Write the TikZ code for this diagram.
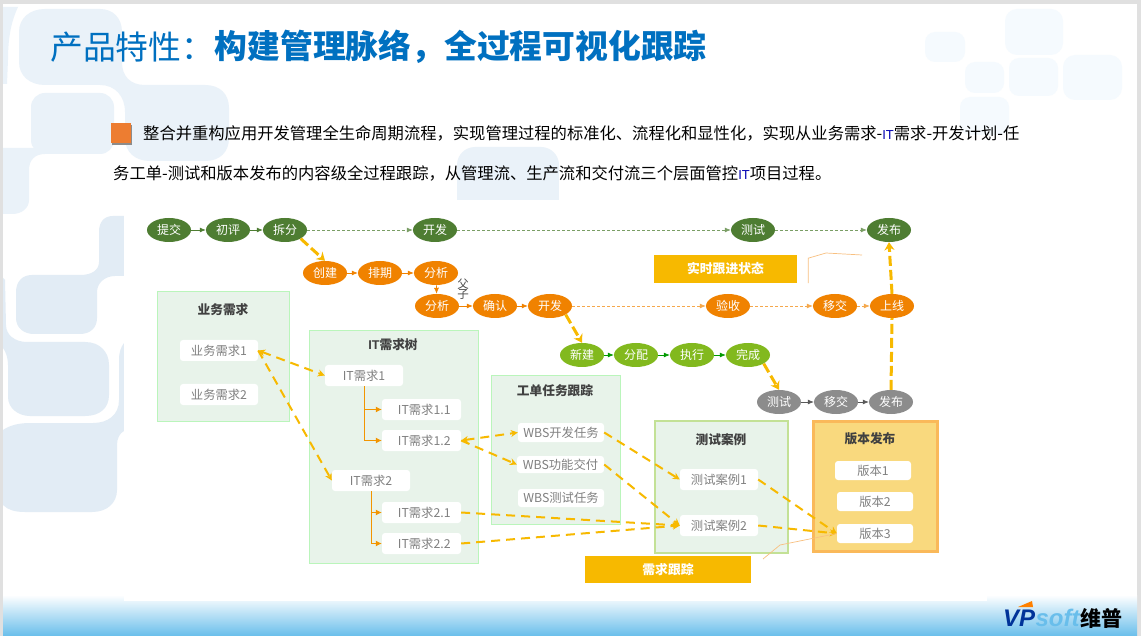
\documentclass[tikz,border=0pt]{standalone}
\usepackage{fontspec}
\usepackage{xcolor}
\usetikzlibrary{arrows.meta,shapes.geometric}
\setmainfont{Liberation Sans}
\newfontfamily\cjk{Noto Sans CJK SC}
\definecolor{vpblue}{RGB}{0,112,192}
\definecolor{vpdeco}{RGB}{234,242,249}
\definecolor{vpdecob}{RGB}{226,236,245}
\definecolor{vpfaint}{RGB}{245,250,254}
\definecolor{vpdark}{RGB}{78,125,50}
\definecolor{vporange}{RGB}{240,130,0}
\definecolor{vplime}{RGB}{130,185,30}
\definecolor{vpgray}{RGB}{140,140,140}
\definecolor{vpyellow}{RGB}{247,185,0}
\definecolor{vppanel}{RGB}{232,243,234}
\definecolor{vpsky}{RGB}{105,190,235}
\definecolor{vpbullet}{RGB}{237,125,49}
\definecolor{vpver}{RGB}{249,217,126}
\definecolor{vpverline}{RGB}{250,185,90}
\definecolor{vptestline}{RGB}{195,225,150}
\tikzset{
  flowstep/.style={ellipse, minimum width=44pt, minimum height=24pt, inner sep=0pt, text=white, font=\cjk\fontsize{12}{14}\selectfont},
  darkstep/.style={flowstep, fill=vpdark},
  orangestep/.style={flowstep, fill=vporange},
  limestep/.style={flowstep, fill=vplime},
  graystep/.style={flowstep, fill=vpgray},
  panelbox/.style={fill=vppanel, draw=vppanel!80!green, line width=1pt},
  paneltitle/.style={font=\cjk\bfseries\fontsize{12.7}{14}\selectfont, text=black!75},
  itembox/.style={fill=white, rounded corners=3pt, inner sep=0pt, minimum height=21pt, minimum width=78pt, text=black!50, font=\cjk\fontsize{12.3}{14}\selectfont},
  tagbox/.style={fill=vpyellow, inner sep=0pt, text=white, font=\cjk\bfseries\fontsize{12.8}{14}\selectfont},
  trace/.style={-{Stealth[length=7pt,width=7pt]}, vpyellow, line width=2pt, dash pattern=on 9pt off 6pt},
  tracetwo/.style={trace, {Stealth[length=7pt,width=7pt]}-{Stealth[length=7pt,width=7pt]}},
  jump/.style={-{Stealth[length=8pt,width=10pt]}, vpyellow, line width=3pt, dash pattern=on 10pt off 4pt},
  thinlink/.style={-{Latex[length=6pt,width=5pt]}, line width=0.7pt},
  dotlink/.style={thinlink, dash pattern=on 2.5pt off 2.5pt},
  treelink/.style={-{Latex[length=6pt,width=6pt]}, vporange!85!yellow, line width=1pt},
  callout/.style={draw=vporange!50, line width=0.7pt}
}
\begin{document}
\begin{tikzpicture}[x=1pt, y=-1pt]
\useasboundingbox (0,0) rectangle (1141,636);
\fill[black!12] (0,0) rectangle (1141,636);
\fill[white] (3,4) rectangle (1137,636);
\fill[vpdeco] (45,9) -- (100,9) .. controls (113,9) and (122,18) .. (122,32) -- (122,62) .. controls (122,76) and (130,85) .. (145,85) -- (205,85) .. controls (220,85) and (229,94) .. (229,108) -- (229,138) .. controls (229,152) and (220,161) .. (205,161) -- (150,161) .. controls (135,161) and (125,152) .. (125,138) -- (125,112) .. controls (125,96) and (115,85) .. (100,85) -- (45,85) .. controls (30,85) and (19,76) .. (19,62) -- (19,32) .. controls (19,18) and (30,9) .. (45,9) -- cycle;
\fill[vpdeco, rounded corners=14pt] (31,93) rectangle (114,154);
\fill[vpdeco] (3,7) -- (18,7) .. controls (12,20) and (8,35) .. (8,60) -- (7,84) -- (3,84) -- cycle;
\fill[vpdeco] (3,148) -- (50,148) -- (50,154) -- (45,154) .. controls (35,154) and (29,160) .. (29,170) -- (29,200) .. controls (29,208) and (22,214) .. (12,214) -- (3,214) -- cycle;
\fill[vpdecob] (124,216) -- (113,216) .. controls (104,216) and (99,222) .. (99,232) -- (99,262) .. controls (99,270) and (92,275) .. (80,275) -- (32,275) .. controls (22,275) and (16,282) .. (16,292) -- (16,318) .. controls (16,328) and (24,334) .. (34,334) -- (80,334) .. controls (90,334) and (97,328) .. (97,318) -- (97,292) .. controls (97,283) and (105,276) .. (115,276) -- (124,276) -- cycle;
\fill[vpdecob] (3,278) -- (5,280) -- (6,325) .. controls (6,335) and (15,342) .. (27,342) -- (85,342) .. controls (100,342) and (109,352) .. (109,365) -- (109,395) .. controls (109,408) and (100,416) .. (85,416) -- (30,416) .. controls (18,416) and (8,408) .. (8,397) -- (8,365) .. controls (8,358) and (6,352) .. (3,348) -- cycle;
\fill[vpdecob] (3,430) .. controls (10,425) and (20,423) .. (30,423) -- (93,423) .. controls (108,423) and (119,415) .. (119,400) -- (119,360) .. controls (119,352) and (121,347) .. (124,343) -- (124,431) .. controls (120,433) and (117,438) .. (117,445) -- (117,490) .. controls (117,503) and (107,512) .. (92,512) -- (25,512) .. controls (15,512) and (8,510) .. (3,505) -- cycle;
\fill[vpdeco, rounded corners=18pt] (457,147) rectangle (559,190);
\fill[vpdeco] (457,175) rectangle (559,200);
\fill[vpfaint, rounded corners=12pt] (1005,9) rectangle (1063,55);
\fill[vpfaint, rounded corners=12pt] (1063,55) rectangle (1122,100);
\fill[vpfaint, rounded corners=10pt] (1009,58) rectangle (1058,96);
\fill[vpfaint, rounded corners=10pt] (965,62) rectangle (1004,93);
\fill[vpfaint, rounded corners=10pt] (925,32) rectangle (965,62);
\fill[vpfaint, rounded corners=10pt] (960,97) rectangle (1009,135);
\fill[white] (124,200) rectangle (987,601);
\shade[top color=white, bottom color=vpsky] (3,595) rectangle (1137,636);
\fill[white] (124,590) rectangle (987,601);

\node[anchor=west, inner sep=0pt, text=vpblue, font=\cjk\fontsize{32.8}{36}\selectfont] (titlea) at (50,47) {产品特性：};
\node[anchor=west, inner sep=0pt, text=vpblue, font=\cjk\bfseries\fontsize{32.8}{36}\selectfont] (titleb) at (titlea.east) {构建管理脉络，全过程可视化跟踪};
\fill[black!45] (112,125) rectangle (132,145);
\node[fill=vpbullet, inner sep=0pt, minimum size=20pt] (bullet) at (121,133) {};
\node[anchor=west, inner sep=0pt, font=\cjk\fontsize{16.3}{20}\selectfont] (linea) at (143,133) {整合并重构应用开发管理全生命周期流程，实现管理过程的标准化、流程化和显性化，实现从业务需求-{\color{blue!70!black}\rmfamily\fontsize{13}{20}\selectfont IT}需求-开发计划-任};
\node[anchor=west, inner sep=0pt, font=\cjk\fontsize{16.3}{20}\selectfont] (lineb) at (113,173) {务工单-测试和版本发布的内容级全过程跟踪，从管理流、生产流和交付流三个层面管控{\color{blue!70!black}\rmfamily\fontsize{13}{20}\selectfont IT}项目过程。};

\node[panelbox, minimum width=132pt, minimum height=129pt, inner sep=0pt] (bizpanel) at (223,356.5) {};
\node[panelbox, minimum width=169pt, minimum height=232pt, inner sep=0pt] (itpanel) at (393.5,447) {};
\node[panelbox, minimum width=129pt, minimum height=148pt, inner sep=0pt] (wbspanel) at (555.5,450) {};
\node[panelbox, draw=vptestline, line width=2.2pt, minimum width=133pt, minimum height=132pt, inner sep=0pt] (testpanel) at (721.5,487) {};
\node[panelbox, fill=vpver, draw=vpverline, line width=3pt, minimum width=124pt, minimum height=130pt, inner sep=0pt] (verpanel) at (875.5,486.5) {};

\node[paneltitle] (biztitle) at (223,310) {业务需求};
\node[paneltitle] (ittitle) at (393,345) {{\rmfamily\bfseries IT}需求树};
\node[paneltitle] (wbstitle) at (555,391) {工单任务跟踪};
\node[paneltitle] (testtitle) at (721,440) {测试案例};
\node[paneltitle] (vertitle) at (870,439) {版本发布};

\node[darkstep] (submit) at (169,230) {提交};
\node[darkstep] (review) at (228,230) {初评};
\node[darkstep] (split) at (285,230) {拆分};
\node[darkstep] (dev) at (435,230) {开发};
\node[darkstep] (test) at (753,230) {测试};
\node[darkstep] (publish) at (889,230) {发布};

\node[orangestep] (create) at (325,273) {创建};
\node[orangestep] (sched) at (380,273) {排期};
\node[orangestep] (parse) at (436,273) {分析};
\node[orangestep] (parseb) at (437,306) {分析};
\node[orangestep] (confirm) at (495,306) {确认};
\node[orangestep] (devb) at (550,306) {开发};
\node[orangestep] (accept) at (728,306) {验收};
\node[orangestep] (handover) at (835,306) {移交};
\node[orangestep] (online) at (892,306) {上线};

\node[limestep] (newtask) at (582,355) {新建};
\node[limestep] (assign) at (636,355) {分配};
\node[limestep] (run) at (692,355) {执行};
\node[limestep] (finish) at (748,355) {完成};

\node[graystep] (testb) at (779,402) {测试};
\node[graystep] (handoverb) at (836,402) {移交};
\node[graystep] (publishb) at (891,402) {发布};

\node[inner sep=0pt, align=center, text=black!70, font=\cjk\fontsize{11.5}{10.5}\selectfont] (parent) at (463,289) {父\\子};

\node[tagbox, minimum width=143pt, minimum height=28pt] (statetag) at (725.5,269) {实时跟进状态};
\node[tagbox, minimum width=166pt, minimum height=27pt] (tracetag) at (668,569.5) {需求跟踪};

\node[itembox] (biza) at (219,350.5) {业务需求1};
\node[itembox] (bizb) at (219,394.5) {业务需求2};
\node[itembox] (ita) at (364,375.5) {IT需求1};
\node[itembox, minimum width=79pt] (itaa) at (421.5,409.5) {\ \ IT需求1.1};
\node[itembox, minimum width=79pt] (itab) at (421.5,440.5) {\ \ IT需求1.2};
\node[itembox] (itb) at (371,480.5) {IT需求2};
\node[itembox, minimum width=79pt] (itba) at (421.5,512.5) {\ \ IT需求2.1};
\node[itembox, minimum width=79pt] (itbb) at (421.5,543.5) {\ \ IT需求2.2};
\node[itembox, minimum width=86pt, minimum height=19pt] (wbsa) at (561,432.5) {WBS开发任务};
\node[itembox, minimum width=87pt, minimum height=17pt] (wbsb) at (560.5,464.5) {WBS功能交付};
\node[itembox, minimum width=86pt, minimum height=18pt] (wbsc) at (561,498) {WBS测试任务};
\node[itembox] (casea) at (719,479.5) {测试案例1};
\node[itembox] (caseb) at (719,525.5) {测试案例2};
\node[itembox, minimum width=76pt, minimum height=19pt] (vera) at (873,470.5) {版本1};
\node[itembox, minimum width=76pt, minimum height=19pt] (verb) at (875,501.5) {版本2};
\node[itembox, minimum width=76pt, minimum height=19pt] (verc) at (875,533.5) {版本3};

\draw[thinlink, vpdark] (submit) -- (review);
\draw[thinlink, vpdark] (review) -- (split);
\draw[dotlink, vpdark!75] (split) -- (dev);
\draw[dotlink, vpdark!75] (dev) -- (test);
\draw[dotlink, vpdark!75] (test) -- (publish);
\draw[thinlink, vporange] (create) -- (sched);
\draw[thinlink, vporange] (sched) -- (parse);
\draw[thinlink, vporange] (parse) -- (parseb);
\draw[thinlink, vporange] (parseb) -- (confirm);
\draw[thinlink, vporange] (confirm) -- (devb);
\draw[dotlink, vporange!70] (devb) -- (accept);
\draw[dotlink, vporange!70] (accept) -- (handover);
\draw[dotlink, vporange!70] (handover) -- (online);
\draw[thinlink, green!60!black] (newtask) -- (assign);
\draw[thinlink, green!60!black] (assign) -- (run);
\draw[thinlink, green!60!black] (run) -- (finish);
\draw[thinlink, black!65] (testb) -- (handoverb);
\draw[thinlink, black!65] (handoverb) -- (publishb);

\draw[jump] (split.south east) -- (create.north);
\draw[jump] (devb.south east) -- (newtask.north);
\draw[jump] (finish.south east) -- (testb.north);
\draw[jump, -] (publishb.north) -- (online.south);
\draw[jump] (online.north) -- (publish.south);

\draw[tracetwo] (biza.east) -- (ita.west);
\draw[trace] (biza.east) -- (itb.west);
\draw[tracetwo] (itab.east) -- (wbsa.west);
\draw[trace] (itab.east) -- (wbsb.west);
\draw[trace] (wbsa.east) -- (casea.west);
\draw[trace] (wbsb.east) -- (caseb.west);
\draw[trace] (itba.east) -- (caseb.west);
\draw[trace] (itbb.east) -- (caseb.west);
\draw[trace] (casea.east) -- (verc.west);
\draw[trace] (caseb.east) -- (verc.west);

\draw[treelink] (ita.south) |- (itaa.west);
\draw[treelink] (ita.south) |- (itab.west);
\draw[treelink] (itb.south) |- (itba.west);
\draw[treelink] (itb.south) |- (itbb.west);

\coordinate (stateend) at (862,255);
\coordinate (tracestart) at (763,559);
\draw[callout] ([xshift=11pt]statetag.south east) -- ++(0,-25) -- (826,253) -- (stateend);
\draw[callout] (tracestart) -- (780,545) -- (verc.west);

\node[inner sep=0pt, anchor=west, text=blue!50!black!80!cyan, font=\rmfamily\bfseries\itshape\fontsize{24}{26}\selectfont] (logoa) at (1003,618) {VP};
\node[inner sep=0pt, anchor=west, text=vpsky, font=\rmfamily\bfseries\itshape\fontsize{24}{26}\selectfont] (logob) at (logoa.east) {soft};
\node[inner sep=0pt, anchor=west, text=black, font=\cjk\bfseries\fontsize{21}{22}\selectfont] (logoc) at (logob.east) {维普};
\fill[orange] (1018,607) -- (1032,601) -- (1033,607) -- cycle;
\end{tikzpicture}
\end{document}
